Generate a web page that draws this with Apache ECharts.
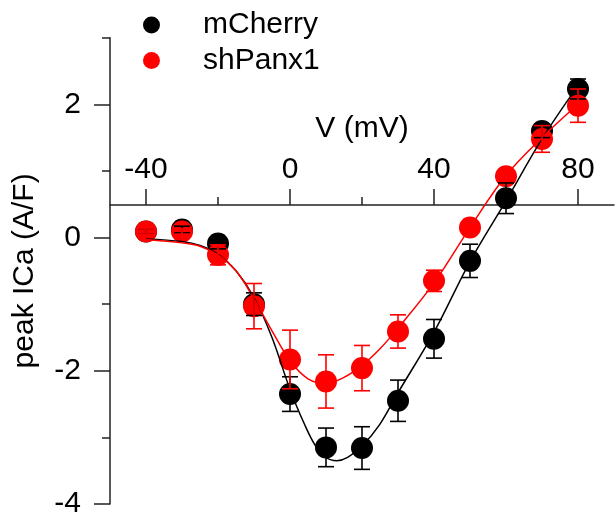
<!DOCTYPE html>
<html>
<head>
<meta charset="utf-8">
<script src="https://cdn.jsdelivr.net/npm/echarts@6/dist/echarts.min.js"></script>
<style>
html,body{margin:0;padding:0;background:#fff;}
#chart{width:615px;height:519px;}
</style>
</head>
<body>
<div id="chart"></div>
<script>
// ---- data ----
const voltages = [-40, -30, -20, -10, 0, 10, 20, 30, 40, 50, 60, 70, 80];
const mCherryMean = [0.09, 0.12, -0.09, -1.0, -2.35, -3.15, -3.16, -2.45, -1.52, -0.35, 0.59, 1.6, 2.23];
const mCherryErr  = [0.04, 0.05, 0.08, 0.17, 0.26, 0.29, 0.32, 0.31, 0.29, 0.25, 0.23, 0.1, 0.15];
const shPanx1Mean = [0.09, 0.09, -0.26, -1.03, -1.83, -2.16, -1.96, -1.41, -0.65, 0.15, 0.92, 1.48, 1.98];
const shPanx1Err  = [0.04, 0.04, 0.15, 0.34, 0.44, 0.40, 0.34, 0.25, 0.16, 0.08, 0.05, 0.2, 0.25];

// fitted curves
const mCherryFitV = [-40, -30, -25, -20, -15, -10, -5, 0, 4, 7, 10, 13, 16, 20, 25, 30, 40, 50, 60, 70, 80];
const mCherryFitI = [-0.02, -0.06, -0.12, -0.25, -0.5, -0.9, -1.5, -2.28, -2.8, -3.12, -3.3, -3.35, -3.3, -3.13, -2.8, -2.33, -1.42, -0.36, 0.55, 1.48, 2.28];
const shPanx1FitV = [-40, -30, -25, -20, -15, -10, -5, 0, 5, 10, 15, 20, 25, 30, 40, 50, 60, 70, 80];
const shPanx1FitI = [-0.03, -0.08, -0.13, -0.26, -0.5, -0.92, -1.4, -1.85, -2.12, -2.19, -2.1, -1.92, -1.67, -1.36, -0.68, 0.15, 0.93, 1.5, 2.0];

const xMajorTicks = [-40, 0, 40, 80];
const xMinorTicks = [-20, 20, 60];
const yMajorTicks = [-4, -2, 0, 2];
const yMinorTicks = [-3, -1, 1, 3];

// ---- layout ----
const FONT = "'Liberation Sans', Arial, sans-serif";
const X_MIN = -50, X_MAX = 90, Y_MIN = -4, Y_MAX = 3, X_CROSS_Y = 0.5;
const G_LEFT = 110, G_RIGHT = 1, G_TOP = 37.7, G_BOTTOM = 13;
const G_H = 519 - G_TOP - G_BOTTOM;
const crossTop = G_TOP + (Y_MAX - X_CROSS_Y) / (Y_MAX - Y_MIN) * G_H;
const AXIS_COLOR = '#222';

function pairs(xs, ys) { return xs.map((x, i) => [x, ys[i]]); }
function errData(xs, m, e) { return xs.map((x, i) => [x, m[i] - e[i], m[i] + e[i]]); }

function errRender(color) {
  return function (params, api) {
    const x = api.value(0);
    const lo = api.coord([x, api.value(1)]);
    const hi = api.coord([x, api.value(2)]);
    const hw = 8;
    const style = { stroke: color, lineWidth: 1.6 };
    return {
      type: 'group',
      children: [
        { type: 'line', shape: { x1: lo[0], y1: lo[1], x2: hi[0], y2: hi[1] }, style },
        { type: 'line', shape: { x1: lo[0] - hw, y1: lo[1], x2: lo[0] + hw, y2: lo[1] }, style },
        { type: 'line', shape: { x1: hi[0] - hw, y1: hi[1], x2: hi[0] + hw, y2: hi[1] }, style }
      ]
    };
  };
}

const chart = echarts.init(document.getElementById('chart'), null, { renderer: 'canvas' });
chart.setOption({
  animation: false,
  backgroundColor: '#fff',
  textStyle: { fontFamily: FONT },
  grid: [
    { left: G_LEFT, right: G_RIGHT, top: G_TOP, bottom: G_BOTTOM },
    { left: G_LEFT, right: G_RIGHT, top: crossTop, height: 1 }
  ],
  legend: {
    data: ['mCherry', 'shPanx1'],
    orient: 'vertical',
    left: 143,
    top: 10,
    padding: 0,
    itemWidth: 17,
    itemHeight: 17,
    itemGap: 5.5,
    icon: 'circle',
    textStyle: { fontSize: 30, color: '#000', fontFamily: FONT, padding: [0, 0, 0, 38] },
    selectedMode: false
  },
  xAxis: [
    { type: 'value', gridIndex: 0, min: X_MIN, max: X_MAX, show: false },
    {
      type: 'value', gridIndex: 1, position: 'top', min: X_MIN, max: X_MAX,
      name: 'V (mV)', nameLocation: 'middle', nameGap: 61,
      nameTextStyle: { fontSize: 30, color: '#000', fontFamily: FONT },
      axisLine: { show: true, onZero: false, lineStyle: { color: AXIS_COLOR, width: 1.5 } },
      axisTick: { show: true, inside: false, length: 16, customValues: xMajorTicks, lineStyle: { color: AXIS_COLOR, width: 1.5 } },
      axisLabel: { show: true, margin: 20, fontSize: 30, color: '#000', fontFamily: FONT, customValues: xMajorTicks },
      splitLine: { show: false }
    },
    {
      type: 'value', gridIndex: 1, position: 'top', min: X_MIN, max: X_MAX,
      axisLine: { show: false, onZero: false },
      axisTick: { show: true, inside: false, length: 8, customValues: xMinorTicks, lineStyle: { color: AXIS_COLOR, width: 1.5 } },
      axisLabel: { show: false },
      splitLine: { show: false }
    }
  ],
  yAxis: [
    {
      type: 'value', gridIndex: 0, position: 'left', min: Y_MIN, max: Y_MAX,
      name: 'peak ICa (A/F)', nameLocation: 'middle', nameGap: 70, nameRotate: 90,
      nameTextStyle: { fontSize: 30, color: '#000', fontFamily: FONT },
      axisLine: { show: true, onZero: false, lineStyle: { color: AXIS_COLOR, width: 1.5 } },
      axisTick: { show: true, length: 16, customValues: yMajorTicks, lineStyle: { color: AXIS_COLOR, width: 1.5 } },
      axisLabel: { show: true, margin: 29, fontSize: 30, color: '#000', fontFamily: FONT, customValues: yMajorTicks },
      splitLine: { show: false }
    },
    {
      type: 'value', gridIndex: 0, position: 'left', offset: 0, min: Y_MIN, max: Y_MAX,
      axisLine: { show: false, onZero: false },
      axisTick: { show: true, length: 8, customValues: yMinorTicks, lineStyle: { color: AXIS_COLOR, width: 1.5 } },
      axisLabel: { show: false },
      splitLine: { show: false }
    },
    { type: 'value', gridIndex: 1, show: false, min: 0, max: 1, axisLine: { onZero: false } }
  ],
  series: [
    {
      name: 'mCherry', type: 'scatter', xAxisIndex: 0, yAxisIndex: 0,
      symbol: 'circle', symbolSize: 22, z: 2,
      itemStyle: { color: '#000', opacity: 1 },
      data: pairs(voltages, mCherryMean)
    },
    {
      name: 'shPanx1', type: 'scatter', xAxisIndex: 0, yAxisIndex: 0,
      symbol: 'circle', symbolSize: 22, z: 2,
      itemStyle: { color: '#ff0000', opacity: 1 },
      data: pairs(voltages, shPanx1Mean)
    },
    {
      name: 'mCherry fit', type: 'line', xAxisIndex: 0, yAxisIndex: 0,
      smooth: 0.35, showSymbol: false, symbol: 'none', z: 3,
      lineStyle: { color: '#000', width: 1.5 },
      data: pairs(mCherryFitV, mCherryFitI)
    },
    {
      name: 'shPanx1 fit', type: 'line', xAxisIndex: 0, yAxisIndex: 0,
      smooth: 0.35, showSymbol: false, symbol: 'none', z: 3,
      lineStyle: { color: '#ff0000', width: 1.5 },
      data: pairs(shPanx1FitV, shPanx1FitI)
    },
    {
      name: 'mCherry err', type: 'custom', xAxisIndex: 0, yAxisIndex: 0, z: 4,
      renderItem: errRender('#000'),
      encode: { x: 0, y: [1, 2] },
      data: errData(voltages, mCherryMean, mCherryErr)
    },
    {
      name: 'shPanx1 err', type: 'custom', xAxisIndex: 0, yAxisIndex: 0, z: 4,
      renderItem: errRender('#ff0000'),
      encode: { x: 0, y: [1, 2] },
      data: errData(voltages, shPanx1Mean, shPanx1Err)
    }
  ]
});
</script>
</body>
</html>
